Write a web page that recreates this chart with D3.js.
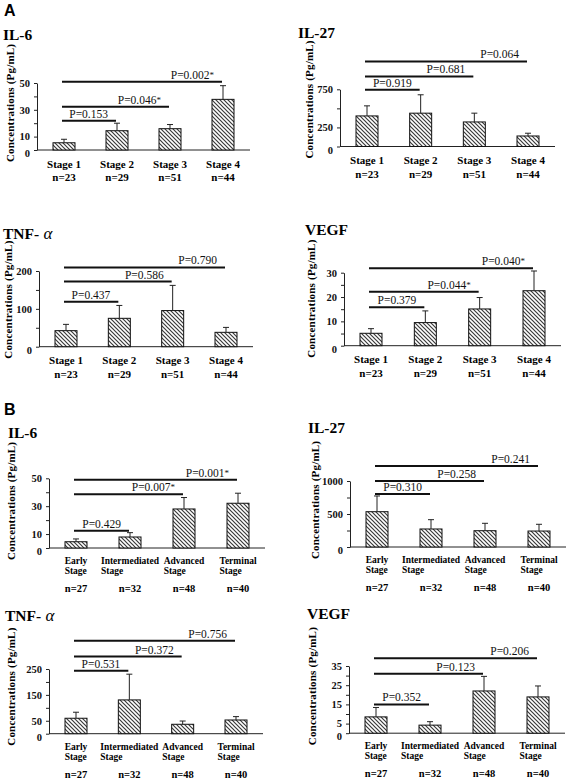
<!DOCTYPE html>
<html><head><meta charset="utf-8">
<script src="https://cdn.jsdelivr.net/npm/d3@7"></script>
<style>body{margin:0;background:#fff}svg{display:block}</style>
</head><body>
<script>
// ---------- DATA ----------
const stagesA = ["Stage 1", "Stage 2", "Stage 3", "Stage 4"];
const nA = ["n=23", "n=29", "n=51", "n=44"];
const stagesB = [["Early", "Stage"], ["Intermediated", "Stage"], ["Advanced", "Stage"], ["Terminal", "Stage"]];
const nB = ["n=27", "n=32", "n=48", "n=40"];

// Panel A
const il6A_mean = [5.4, 14.4, 15.9, 37.8];
const il6A_sd = [2.6, 5.6, 3.1, 10.2];
const il6A_p = ["P=0.153", "P=0.046*", "P=0.002*"];
const il6A_pLevel = [21.9, 32.3, 51];
const il6A_ticks = [0, 10, 20, 30, 40, 50];
const il6A_labels = [0, 10, 30, 50];

const il27A_mean = [401, 437, 322, 138];
const il27A_sd = [132, 241, 115, 36];
const il27A_p = ["P=0.919", "P=0.681", "P=0.064"];
const il27A_pLevel = [743, 918, 1116];
const il27A_ticks = [0, 250, 500, 750];
const il27A_labels = [0, 250, 750];

const tnfA_mean = [42.4, 75, 95.5, 38];
const tnfA_sd = [16.6, 34, 66.5, 13];
const tnfA_p = ["P=0.437", "P=0.586", "P=0.790"];
const tnfA_pLevel = [119, 172, 209.5];
const tnfA_ticks = [0, 50, 100, 150, 200];
const tnfA_labels = [0, 100, 200];

const vegfA_mean = [5.1, 9.5, 15.1, 22.6];
const vegfA_sd = [1.9, 4.8, 4.7, 8.1];
const vegfA_p = ["P=0.379", "P=0.044*", "P=0.040*"];
const vegfA_pLevel = [15.8, 22.2, 31.8];
const vegfA_ticks = [0, 5, 10, 15, 20, 25, 30];
const vegfA_labels = [0, 10, 20, 30];

// Panel B
const il6B_mean = [4.5, 7.9, 28, 32.1];
const il6B_sd = [2, 3.1, 8.2, 7.2];
const il6B_p = ["P=0.429", "P=0.007*", "P=0.001*"];
const il6B_pLevel = [12.4, 38.6, 49];
const il6B_ticks = [0, 10, 20, 30, 40, 50];
const il6B_labels = [0, 10, 30, 50];

const il27B_mean = [535, 273, 247, 242];
const il27B_sd = [238, 141, 112, 102];
const il27B_p = ["P=0.310", "P=0.258", "P=0.241"];
const il27B_pLevel = [803, 1000, 1227];
const il27B_ticks = [0, 250, 500, 750, 1000];
const il27B_labels = [0, 500, 1000];

const tnfB_mean = [59.7, 130.6, 36.4, 53];
const tnfB_sd = [23.3, 99.4, 12.6, 13];
const tnfB_p = ["P=0.531", "P=0.372", "P=0.756"];
const tnfB_pLevel = [243, 298, 359];
const tnfB_ticks = [0, 50, 100, 150, 200, 250];
const tnfB_labels = [0, 50, 150, 250];

const vegfB_mean = [8.5, 4.2, 22, 18.9];
const vegfB_sd = [4.9, 1.8, 7.6, 5.7];
const vegfB_p = ["P=0.352", "P=0.123", "P=0.206"];
const vegfB_pLevel = [15, 31, 39.1];
const vegfB_ticks = [0, 5, 10, 15, 20, 25, 30, 35];
const vegfB_labels = [0, 5, 15, 25, 35];

const yTitle = "Concentrations (Pg/mL)";

// ---------- DRAW ----------
const SERIF = "'Liberation Serif','Times New Roman',serif";
const svg = d3.select("body").append("svg").attr("width", 567).attr("height", 780);

const pat = svg.append("defs").append("pattern")
  .attr("id", "hatch").attr("patternUnits", "userSpaceOnUse")
  .attr("width", 4).attr("height", 4);
pat.append("rect").attr("width", 4).attr("height", 4).attr("fill", "#fff");
pat.append("path").attr("d", "M0,0 L4,4 M-1,3 L1,5 M3,-1 L5,1")
  .attr("stroke", "#3a3a3a").attr("stroke-width", 1.2);

svg.append("text").attr("x", 4).attr("y", 16).text("A")
  .attr("font-family", "'Liberation Sans',Arial,sans-serif").attr("font-weight", "bold").attr("font-size", 16);
svg.append("text").attr("x", 4).attr("y", 415).text("B")
  .attr("font-family", "'Liberation Sans',Arial,sans-serif").attr("font-weight", "bold").attr("font-size", 16);

function panel(o) {
  const L = o.layout;
  const g = svg.append("g");
  const y = d3.scaleLinear().domain([0, o.ticks[o.ticks.length - 1]]).range([L.base, L.top]);
  const x = d3.scalePoint().domain(d3.range(o.mean.length)).range([L.left + 27, L.right - 27]);
  const bw = 22;

  // title
  const t = g.append("text").attr("x", L.titleX).attr("y", L.titleY)
    .attr("font-family", SERIF).attr("font-weight", "bold").attr("font-size", 15.5);
  if (o.greek) {
    t.append("tspan").text(o.title);
    t.append("tspan").text(" " + o.greek).attr("font-style", "italic").attr("font-weight", "normal").attr("font-size", 17);
  } else t.text(o.title);

  // y label
  g.append("text").attr("transform", `translate(${L.labelX},${L.base + 12}) rotate(-90)`)
    .attr("dy", "0.35em").attr("font-family", SERIF).attr("font-weight", "bold").attr("font-size", 11)
    .attr("textLength", 118).attr("lengthAdjust", "spacing").text(yTitle);

  // y axis
  const ax = g.append("g").attr("transform", `translate(${L.left},0)`)
    .call(d3.axisLeft(y).tickValues(o.ticks).tickSize(3).tickSizeOuter(0).tickPadding(4)
      .tickFormat(d => o.labels.includes(d) ? d : ""));
  ax.select(".domain").attr("stroke", "#222");
  ax.selectAll(".tick line").attr("stroke", "#222");
  ax.selectAll(".tick text").attr("font-family", SERIF).attr("font-weight", "bold").attr("font-size", 10.5).attr("fill", "#111")
    .attr("dy", d => d === 0 ? "0.62em" : "0.32em");

  // x axis line
  g.append("line").attr("x1", L.left).attr("x2", L.right).attr("y1", y(0)).attr("y2", y(0))
    .attr("stroke", "#222").attr("stroke-width", 1);

  // bars
  g.selectAll(".bar").data(o.mean).join("rect")
    .attr("x", (d, i) => x(i) - bw / 2).attr("y", d => y(d))
    .attr("width", bw).attr("height", d => y(0) - y(d))
    .attr("fill", "url(#hatch)").attr("stroke", "#111").attr("stroke-width", 1);

  // error bars
  o.mean.forEach((m, i) => {
    g.append("line").attr("x1", x(i)).attr("x2", x(i)).attr("y1", y(m)).attr("y2", y(m + o.sd[i]))
      .attr("stroke", "#222").attr("stroke-width", 1);
    g.append("line").attr("x1", x(i) - 3).attr("x2", x(i) + 3).attr("y1", y(m + o.sd[i])).attr("y2", y(m + o.sd[i]))
      .attr("stroke", "#222").attr("stroke-width", 1);
  });

  // significance lines
  o.p.forEach((lab, k) => {
    const x1 = x(0) - 2, x2 = x(k + 1) - 1, yy = y(o.pLevel[k]);
    g.append("line").attr("x1", x1).attr("x2", x2).attr("y1", yy).attr("y2", yy)
      .attr("stroke", "#111").attr("stroke-width", 2);
    const tx = g.append("text").attr("x", x2 - 8).attr("y", yy - 3).attr("text-anchor", "end")
      .attr("font-family", SERIF).attr("font-size", 11.5).attr("fill", "#111");
    const star = lab.endsWith("*");
    tx.append("tspan").text(star ? lab.slice(0, -1) : lab);
    if (star) tx.append("tspan").text("*").attr("font-size", 9).attr("dy", -1);
  });

  // category labels
  if (o.cats === stagesA) {
    o.cats.forEach((c, i) => {
      g.append("text").attr("x", x(i)).attr("y", L.base + 17.5).attr("text-anchor", "middle")
        .attr("font-family", SERIF).attr("font-weight", "bold").attr("font-size", 11).text(c);
      g.append("text").attr("x", x(i)).attr("y", L.base + 31).attr("text-anchor", "middle")
        .attr("font-family", SERIF).attr("font-weight", "bold").attr("font-size", 11).text(o.ns[i]);
    });
  } else {
    o.cats.forEach((c, i) => {
      const t1 = g.append("text").attr("x", x(i)).attr("y", L.base + 16).attr("text-anchor", "middle")
        .attr("font-family", SERIF).attr("font-weight", "bold").attr("font-size", 9.5).text(c[0]);
      const w = t1.node().getComputedTextLength();
      g.append("text").attr("x", x(i) - w / 2).attr("y", L.base + 26)
        .attr("font-family", SERIF).attr("font-weight", "bold").attr("font-size", 9.5).text(c[1]);
      g.append("text").attr("x", x(i)).attr("y", L.base + 44).attr("text-anchor", "middle")
        .attr("font-family", SERIF).attr("font-weight", "bold").attr("font-size", 10.5).text(o.ns[i]);
    });
  }
}

panel({title: "IL-6", mean: il6A_mean, sd: il6A_sd, p: il6A_p, pLevel: il6A_pLevel, ticks: il6A_ticks, labels: il6A_labels,
  cats: stagesA, ns: nA, layout: {left: 37, right: 250, base: 150, top: 83, titleX: 3, titleY: 40, labelX: 10}});
panel({title: "IL-27", mean: il27A_mean, sd: il27A_sd, p: il27A_p, pLevel: il27A_pLevel, ticks: il27A_ticks, labels: il27A_labels,
  cats: stagesA, ns: nA, layout: {left: 340, right: 555, base: 146.5, top: 89.3, titleX: 298, titleY: 38, labelX: 309}});
panel({title: "TNF-", greek: "α", mean: tnfA_mean, sd: tnfA_sd, p: tnfA_p, pLevel: tnfA_pLevel, ticks: tnfA_ticks, labels: tnfA_labels,
  cats: stagesA, ns: nA, layout: {left: 39, right: 253, base: 346.7, top: 271, titleX: 3, titleY: 239, labelX: 8}});
panel({title: "VEGF", mean: vegfA_mean, sd: vegfA_sd, p: vegfA_p, pLevel: vegfA_pLevel, ticks: vegfA_ticks, labels: vegfA_labels,
  cats: stagesA, ns: nA, layout: {left: 344, right: 561, base: 345.7, top: 272.7, titleX: 305, titleY: 235, labelX: 311}});

panel({title: "IL-6", mean: il6B_mean, sd: il6B_sd, p: il6B_p, pLevel: il6B_pLevel, ticks: il6B_ticks, labels: il6B_labels,
  cats: stagesB, ns: nB, layout: {left: 49, right: 265, base: 548, top: 478.3, titleX: 8, titleY: 438, labelX: 11}});
panel({title: "IL-27", mean: il27B_mean, sd: il27B_sd, p: il27B_p, pLevel: il27B_pLevel, ticks: il27B_ticks, labels: il27B_labels,
  cats: stagesB, ns: nB, layout: {left: 350, right: 566, base: 547, top: 481, titleX: 308, titleY: 433, labelX: 315}});
panel({title: "TNF-", greek: "α", mean: tnfB_mean, sd: tnfB_sd, p: tnfB_p, pLevel: tnfB_pLevel, ticks: tnfB_ticks, labels: tnfB_labels,
  cats: stagesB, ns: nB, layout: {left: 49, right: 263, base: 733.7, top: 669, titleX: 5, titleY: 621, labelX: 11}});
panel({title: "VEGF", mean: vegfB_mean, sd: vegfB_sd, p: vegfB_p, pLevel: vegfB_pLevel, ticks: vegfB_ticks, labels: vegfB_labels,
  cats: stagesB, ns: nB, layout: {left: 349, right: 565, base: 733.2, top: 666, titleX: 307, titleY: 619, labelX: 312}});
</script>
</body></html>
